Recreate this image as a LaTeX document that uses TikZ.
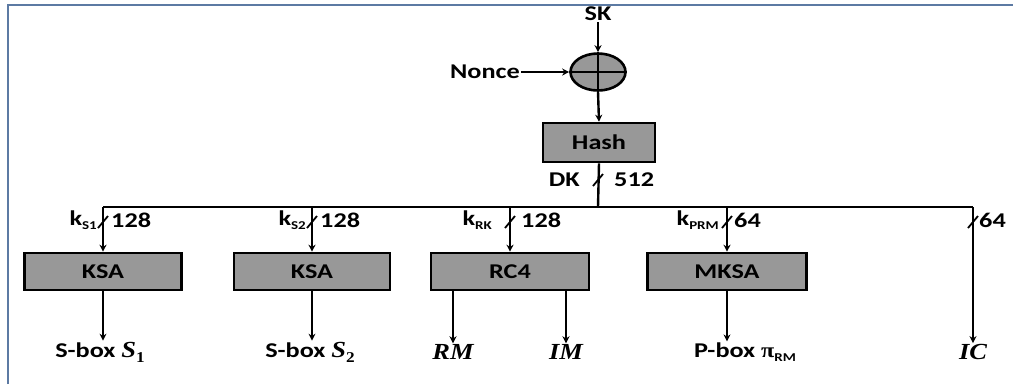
\documentclass[tikz,border=0pt]{standalone}
\usepackage{fontspec}
\setmainfont{Carlito}[FakeStretch=1.25]
\newfontfamily\serifit{Liberation Serif}[FakeStretch=1.15]
\usetikzlibrary{arrows.meta,shapes.geometric,calc}
\definecolor{boxgray}{RGB}{152,152,152}
\definecolor{framecol}{RGB}{92,122,163}
\newcommand{\mathlab}[1]{{\fontsize{23}{26}\selectfont\serifit\bfseries\itshape #1}}
\newcommand{\sub}[1]{\raisebox{-0.4ex}{\fontsize{12}{13}\selectfont #1}}
\newcommand{\msub}[1]{\raisebox{-0.5ex}{\fontsize{15}{16}\selectfont\serifit\bfseries #1}}
\tikzset{
  txt/.style={font=\fontsize{21}{24}\selectfont\bfseries, inner sep=1pt},
  blk/.style={draw, line width=2.6pt, fill=boxgray, minimum height=37pt, txt},
  xorn/.style={draw, ellipse, line width=2.6pt, fill=boxgray, minimum width=55pt, minimum height=37pt, inner sep=0pt},
  wire/.style={line width=2.4pt},
  arr/.style={wire, -{Stealth[length=7pt,width=7pt]}},
  tick/.style={line width=1.8pt},
}
\begin{document}
\begin{tikzpicture}[x=1pt,y=-1pt]
\useasboundingbox (0,0) rectangle (1013,384);
% frame
\draw[framecol, line width=1.8pt] (8,384) -- (8,5) -- (1013,5);
% top part
\node[txt] (sk) at (598,14) {SK};
\node[xorn] (x) at (598,72) {};
\draw[wire] (x.north) -- (x.south);
\draw[wire] (x.west) -- (x.east);
\node[txt] (nonce) at (485,72) {Nonce};
\draw[arr] (sk.south) -- (x.north);
\draw[arr] (nonce.east) -- (x.west);
\node[blk, minimum width=112pt, minimum height=39pt] (hash) at (599,142.5) {Hash};
\draw[arr] (x.south) -- (hash.north);
\coordinate (bus) at (598,207);
\coordinate (bl) at (103,207);
\coordinate (br) at (973,207);
\draw[wire] (hash.south) -- (bus);
\draw[wire] (bl) -- (br);
\draw[tick] (593,186) -- (603,174);
\node[txt, anchor=east] (dk) at (581,180) {DK};
\node[txt, anchor=west] (n512) at (613,180) {512};
% boxes
\node[blk, minimum width=157pt] (ksa1) at (103,271.5) {KSA};
\node[blk, minimum width=156pt] (ksa2) at (312,271.5) {KSA};
\node[blk, minimum width=158pt] (rc4) at (510,271.5) {RC4};
\node[blk, minimum width=159pt] (mksa) at (727,271.5) {MKSA};
% branches
\foreach \b in {ksa1,ksa2,rc4,mksa}{
  \draw[arr] (\b.north |- bus) -- (\b.north);
  \draw[tick] ($(\b.north |- bus)+(-5,21)$) -- ($(\b.north |- bus)+(5,9)$);
}
\draw[tick] ($(br)+(-5,21)$) -- ($(br)+(5,9)$);
\node[txt, anchor=east] at (98,220) {k\sub{S1}};
\node[txt, anchor=west] at (110,220) {128};
\node[txt, anchor=east] at (307,220) {k\sub{S2}};
\node[txt, anchor=west] at (319,220) {128};
\node[txt, anchor=east] at (493,220) {k\sub{RK}};
\node[txt, anchor=west] at (520,220) {128};
\node[txt, anchor=east] at (720,220) {k\sub{PRM}};
\node[txt, anchor=west] at (733,220) {64};
\node[txt, anchor=west] at (978,220) {64};
% outputs
\node[txt] (s1) at (100,352) {S-box \mathlab{S}\msub{1}};
\node[txt] (s2) at (310,352) {S-box \mathlab{S}\msub{2}};
\node[txt] (rm) at (453,352) {\mathlab{RM}};
\node[txt] (im) at (566,352) {\mathlab{IM}};
\node[txt] (pb) at (745,352) {P-box {\serifit\bfseries π}\sub{RM}};
\node[txt] (ic) at (973,352) {\mathlab{IC}};
\draw[arr] (ksa1.south) -- (ksa1.south |- s1.north);
\draw[arr] (ksa2.south) -- (ksa2.south |- s2.north);
\draw[arr] (rm.north |- rc4.south) -- (rm.north);
\draw[arr] (im.north |- rc4.south) -- (im.north);
\draw[arr] (mksa.south) -- (mksa.south |- pb.north);
\draw[arr] (br) -- (ic.north);
\end{tikzpicture}
\end{document}
